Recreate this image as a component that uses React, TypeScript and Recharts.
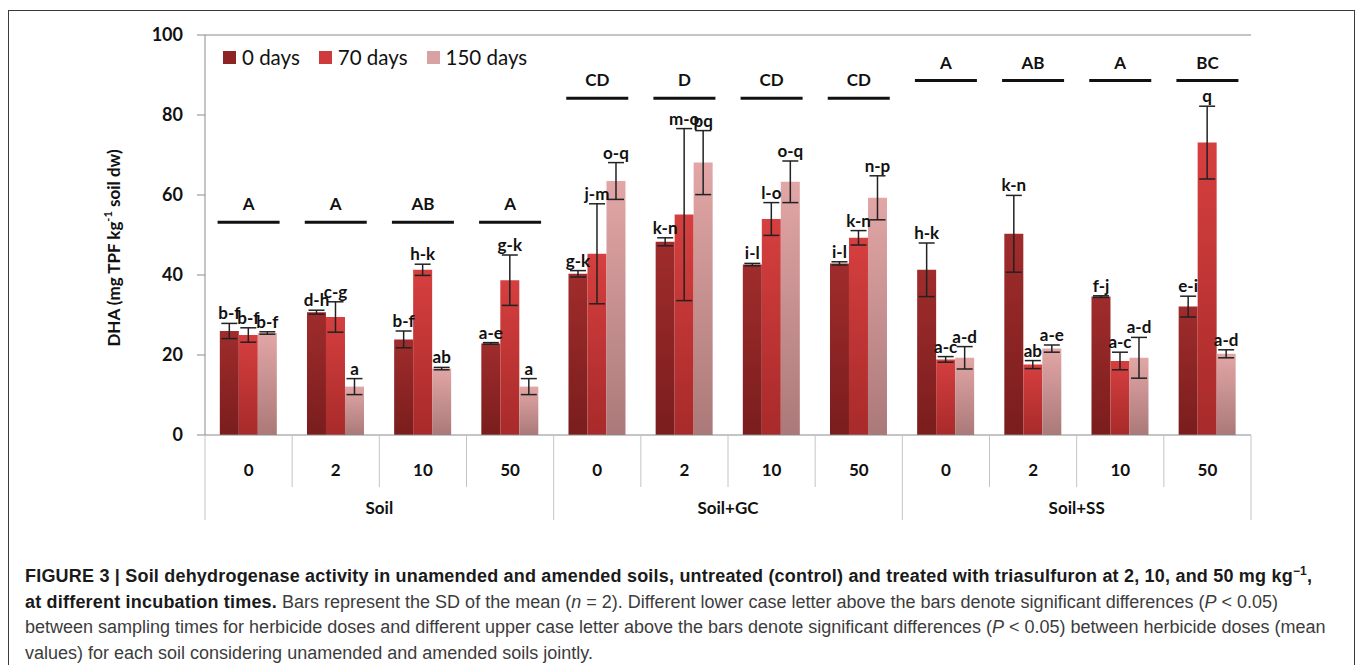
import React from 'react';
import {
  Bar,
  ComposedChart,
  ErrorBar,
  LabelList,
  Legend,
  Line,
  ReferenceLine,
  XAxis,
  YAxis,
} from 'recharts';

// herbicide doses (mg/kg) per amendment
const doses = ['0', '2', '10', '50', '0', '2', '10', '50', '0', '2', '10', '50'];
const soils = ['Soil', 'Soil+GC', 'Soil+SS'];

// DHA means and SD for each incubation time
const day0 = [26, 30.7, 23.9, 22.9, 40.3, 48.3, 42.6, 42.9, 41.3, 50.3, 34.6, 32.1];
const day0Sd = [1.9, 0.5, 2.1, 0.2, 0.8, 1, 0.3, 0.4, 6.7, 9.6, 0.2, 2.6];
const day70 = [25, 29.5, 41.3, 38.7, 45.3, 55.1, 54, 49.3, 18.9, 17.6, 18.5, 73.1];
const day70Sd = [1.8, 3.8, 1.4, 6.3, 12.5, 21.5, 4.1, 1.8, 0.7, 1, 2.2, 9.1];
const day150 = [25.5, 12.1, 16.6, 12.1, 63.5, 68.1, 63.3, 59.3, 19.3, 21.6, 19.3, 20.3];
const day150Sd = [0.3, 2, 0.3, 2, 4.6, 8, 5.2, 5.5, 2.8, 0.9, 5.1, 1];

// significance letters
const day0Letters = ['b-f', 'd-h', 'b-f', 'a-e', 'g-k', 'k-n', 'i-l', 'i-l', 'h-k', 'k-n', 'f-j', 'e-i'];
const day70Letters = ['b-f', 'c-g', 'h-k', 'g-k', 'j-m', 'm-o', 'l-o', 'k-n', 'a-c', 'ab', 'a-c', 'q'];
const day150Letters = ['b-f', 'a', 'ab', 'a', 'o-q', 'pq', 'o-q', 'n-p', 'a-d', 'a-e', 'a-d', 'a-d'];
const doseLetters = ['A', 'A', 'AB', 'A', 'CD', 'D', 'CD', 'CD', 'A', 'AB', 'A', 'BC'];
const doseLetterLevel = [53.2, 53.2, 53.2, 53.2, 84.2, 84.2, 84.2, 84.2, 88.6, 88.6, 88.6, 88.6];

const yTicks = [0, 20, 40, 60, 80, 100];

const data = doses.map((dose, i) => ({
  dose,
  d0: day0[i],
  sd0: day0Sd[i],
  d70: day70[i],
  sd70: day70Sd[i],
  d150: day150[i],
  sd150: day150Sd[i],
  cap: doseLetterLevel[i],
}));

const series = [
  { key: 'd0', sd: 'sd0', name: '0 days', fill: 'url(#g0)', swatch: '#8e2323', sds: day0Sd, letters: day0Letters },
  { key: 'd70', sd: 'sd70', name: '70 days', fill: 'url(#g1)', swatch: '#cf3a3a', sds: day70Sd, letters: day70Letters },
  { key: 'd150', sd: 'sd150', name: '150 days', fill: 'url(#g2)', swatch: '#d9a2a2', sds: day150Sd, letters: day150Letters },
];

const calibri = 'Lato, "Open Sans", sans-serif';

const letterLabel = (sds: number[], letters: string[]) => (props: any) => {
  const { x, y, width, height, index, value } = props;
  if (x == null || !value) return null;
  const perUnit = height / value;
  const top = y - sds[index] * perUnit;
  return (
    <text
      x={x + width / 2}
      y={top - 4}
      textAnchor="middle"
      fontFamily={calibri}
      fontWeight={700}
      fontSize={17}
      fill="#111"
    >
      {letters[index]}
    </text>
  );
};

const CapDot = (props: any) => {
  const { cx, cy, index } = props;
  if (cx == null || cy == null) return null;
  return (
    <g key={`cap-${index}`}>
      <line x1={cx - 31} x2={cx + 31} y1={cy} y2={cy} stroke="#111" strokeWidth={3} />
      <text
        x={cx}
        y={cy - 12}
        textAnchor="middle"
        fontFamily={calibri}
        fontWeight={700}
        fontSize={17}
        fill="#111"
      >
        {doseLetters[index]}
      </text>
    </g>
  );
};

const DoseTick = (props: any) => {
  const { x, y, payload } = props;
  const i = payload.index ?? props.index;
  const half = payload.offset || 43.6;
  const long = 85;
  const short = 52;
  return (
    <g>
      <line x1={x - half} x2={x - half} y1={y} y2={y + (i % 4 === 0 ? long : short)} stroke="#c4c4c4" />
      {i === doses.length - 1 && (
        <line x1={x + half} x2={x + half} y1={y} y2={y + long} stroke="#c4c4c4" />
      )}
      <text x={x} y={y + 41} textAnchor="middle" fontFamily={calibri} fontWeight={700} fontSize={17} fill="#111">
        {payload.value}
      </text>
      {i % 4 === 1 && (
        <text x={x + half} y={y + 79} textAnchor="middle" fontFamily={calibri} fontWeight={700} fontSize={17} fill="#111">
          {soils[Math.floor(i / 4)]}
        </text>
      )}
    </g>
  );
};

const YLabel = (props: any) => {
  const { viewBox } = props;
  const cx = viewBox.x - 32;
  const cy = viewBox.y + viewBox.height / 2 + 13;
  return (
    <text
      transform={`rotate(-90, ${cx}, ${cy})`}
      x={cx}
      y={cy}
      textAnchor="middle"
      dominantBaseline="central"
      fontFamily={calibri}
      fontWeight={700}
      fontSize={17}
      fill="#111"
    >
      DHA (mg TPF kg
      <tspan dy={-6} fontSize={11}>-1</tspan>
      <tspan dy={6}> soil dw)</tspan>
    </text>
  );
};

const renderLegend = () => (
  <div style={{ display: 'flex', alignItems: 'center', fontFamily: calibri, fontSize: 20.5, color: '#111' }}>
    {series.map((s) => (
      <div key={s.key} style={{ display: 'flex', alignItems: 'center', marginRight: 19 }}>
        <span style={{ width: 13, height: 13, background: s.swatch, marginRight: 6, display: 'inline-block' }} />
        <span>{s.name}</span>
      </div>
    ))}
  </div>
);

const boldStyle = { color: '#1a1a1a', letterSpacing: '0.2px' };

export default function App() {
  return (
    <div style={{ position: 'absolute', left: 0, top: 0, width: 1357, height: 665, background: '#fff', overflow: 'hidden' }}>
      <div
        style={{
          position: 'absolute',
          left: 8,
          top: 10,
          width: 1345,
          height: 700,
          border: '1.5px solid #3a3a3a',
        }}
      />
      <div style={{ position: 'absolute', left: 0, top: 0 }}>
        <ComposedChart
          width={1357}
          height={540}
          data={data}
          margin={{ top: 35, right: 106, bottom: 75, left: 145 }}
          barCategoryGap="17%"
          barGap={0}
        >
          <defs>
            <linearGradient id="g0" x1="0" y1="0" x2="0" y2="1">
              <stop offset="0%" stopColor="#a02c2c" />
              <stop offset="100%" stopColor="#7a1d1d" />
            </linearGradient>
            <linearGradient id="g1" x1="0" y1="0" x2="0" y2="1">
              <stop offset="0%" stopColor="#d63f3f" />
              <stop offset="100%" stopColor="#a82a2a" />
            </linearGradient>
            <linearGradient id="g2" x1="0" y1="0" x2="0" y2="1">
              <stop offset="0%" stopColor="#e2a6a6" />
              <stop offset="100%" stopColor="#ab7979" />
            </linearGradient>
          </defs>
          <XAxis
            dataKey="dose"
            interval={0}
            tickSize={0}
            tickMargin={0}
            tickLine={false}
            height={30}
            axisLine={{ stroke: '#8a8a8a' }}
            tick={<DoseTick />}
          />
          <YAxis
            domain={[0, 100]}
            ticks={yTicks}
            width={60}
            tickSize={8}
            tickMargin={14}
            axisLine={{ stroke: '#8a8a8a' }}
            tickLine={{ stroke: '#8a8a8a' }}
            tick={{ fontFamily: calibri, fontWeight: 700, fontSize: 18, fill: '#111' }}
            label={<YLabel />}
          />
          <YAxis
            yAxisId="r"
            orientation="right"
            domain={[0, 100]}
            width={0}
            tick={false}
            tickLine={false}
            axisLine={{ stroke: '#8a8a8a' }}
          />
          <ReferenceLine y={100} stroke="#8a8a8a" />
          <Legend
            layout="horizontal"
            verticalAlign="middle"
            align="center"
            content={renderLegend}
            wrapperStyle={{ top: 45, left: 223, width: 'auto' }}
          />
          {series.map((s) => (
            <Bar key={s.key} dataKey={s.key} name={s.name} fill={s.fill} isAnimationActive={false}>
              <ErrorBar dataKey={s.sd} width={8} strokeWidth={1.5} stroke="#222" direction="y" />
              <LabelList dataKey={s.key} content={letterLabel(s.sds, s.letters)} />
            </Bar>
          ))}
          <Line
            dataKey="cap"
            stroke="none"
            dot={<CapDot />}
            activeDot={false}
            legendType="none"
            isAnimationActive={false}
          />
        </ComposedChart>
      </div>
      <div
        style={{
          position: 'absolute',
          left: 25,
          top: 564,
          width: 1325,
          fontFamily: '"Liberation Sans", Arial, sans-serif',
          fontSize: 18,
          lineHeight: '25.5px',
          color: '#3c3c3c',
          whiteSpace: 'nowrap',
        }}
      >
        <b style={boldStyle}>
          FIGURE 3 | Soil dehydrogenase activity in unamended and amended soils, untreated (control) and treated with triasulfuron at 2, 10, and 50 mg kg
          <span style={{ fontSize: 12, position: 'relative', top: -7, lineHeight: 0 }}>−1</span>,
        </b>
        <br />
        <b style={boldStyle}>at different incubation times.</b> Bars represent the SD of the mean (<i>n</i> = 2). Different lower case letter above the bars denote significant differences (<i>P</i> &lt; 0.05)
        <br />
        between sampling times for herbicide doses and different upper case letter above the bars denote significant differences (<i>P</i> &lt; 0.05) between herbicide doses (mean
        <br />
        values) for each soil considering unamended and amended soils jointly.
      </div>
    </div>
  );
}
